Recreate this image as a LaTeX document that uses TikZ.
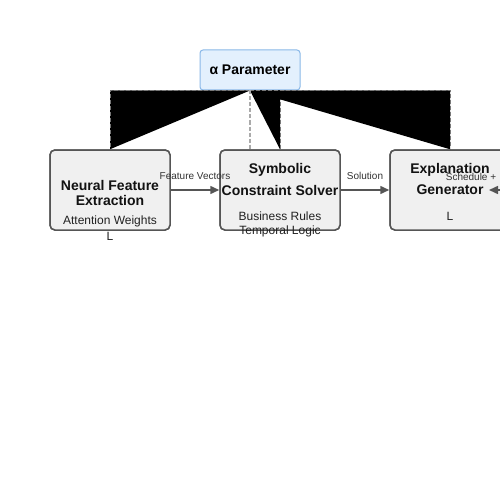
\documentclass[tikz,border=0pt]{standalone}
\usepackage{fontspec}
\setmainfont{Liberation Sans}
\usetikzlibrary{arrows.meta}
\definecolor{boxfill}{HTML}{F0F0F0}
\definecolor{boxline}{HTML}{555555}
\definecolor{alphafill}{HTML}{E3F0FD}
\definecolor{alphaline}{HTML}{8AB8E8}
\definecolor{dashdark}{HTML}{777777}
\definecolor{dashlight}{HTML}{AAAAAA}
\definecolor{labelcol}{HTML}{333333}
\tikzset{
  modbox/.style={draw=boxline, fill=boxfill, line width=1.5pt, rounded corners=5pt,
    minimum width=120pt, minimum height=80pt, inner sep=0pt},
  alphabox/.style={draw=alphaline, fill=alphafill, line width=1pt, rounded corners=3pt,
    minimum width=100pt, minimum height=40pt, inner sep=0pt,
    font=\fontsize{14}{16}\selectfont\bfseries},
  titletext/.style={inner sep=0pt, text=black!93, font=\fontsize{14}{16}\selectfont\bfseries},
  subtext/.style={inner sep=0pt, text=black!87, font=\fontsize{12}{14}\selectfont},
  flowlabel/.style={inner sep=0pt, text=labelcol, font=\fontsize{10}{12}\selectfont},
  flow/.style={draw=boxline, line width=1.5pt, -{Triangle[length=9pt,width=8pt]}},
  linkdark/.style={draw=dashdark, line width=1pt, dash pattern=on 4pt off 2pt, fill=black},
  linklight/.style={draw=dashlight, line width=1.5pt, dash pattern=on 4pt off 2pt},
}
\begin{document}
\begin{tikzpicture}[x=1pt,y=-1pt]
\useasboundingbox (0,0) rectangle (500,500);
\clip (0,0) rectangle (500,500);
\fill[white] (0,0) rectangle (500,500);
% boxes
\node[alphabox] (alpha) at (250,70) {α Parameter};
\node[modbox] (neural) at (110,190) {};
\node[modbox] (solver) at (280,190) {};
\node[modbox] (expl) at (450,190) {};
% links from alpha
\path[linkdark] (alpha.south) -| (neural.north);
\path[linkdark] (alpha.south) -| (solver.north);
\path[linkdark] (alpha.south) -| (expl.north);
\path[linklight] (alpha.south) -- (alpha.south |- solver.north);
% redraw box borders on top
\node[modbox] at (neural) {};
\node[modbox] at (solver) {};
\node[modbox] at (expl) {};
% texts
\node[titletext] (n1) at (110,185) {Neural Feature};
\node[titletext] (n2) at (110,200) {Extraction};
\node[subtext] (n3) at (110,221) {Attention Weights};
\node[subtext] (n4) at (110,236) {L};
\node[titletext] (s1) at (280,170) {Symbolic};
\node[titletext] (s2) at (280,190) {Constraint Solver};
\node[subtext] (s3) at (280,216) {Business Rules};
\node[subtext] (s4) at (280,231) {Temporal Logic};
\node[titletext] (e1) at (450,170) {Explanation};
\node[titletext] (e2) at (450,190) {Generator};
\node[subtext] (e3) at (450,216) {L};
% flows
\draw[flow] (neural.east) -- (solver.west);
\draw[flow] (solver.east) -- (expl.west);
\coordinate (feedin) at (560,190);
\coordinate (feedtip) at (489,190);
\draw[flow] (feedin) -- (feedtip);
\node[flowlabel] (l1) at (195,176) {Feature Vectors};
\node[flowlabel] (l2) at (365,176) {Solution};
\node[flowlabel] (l3) at (471,177) {Schedule +};
\end{tikzpicture}
\end{document}
